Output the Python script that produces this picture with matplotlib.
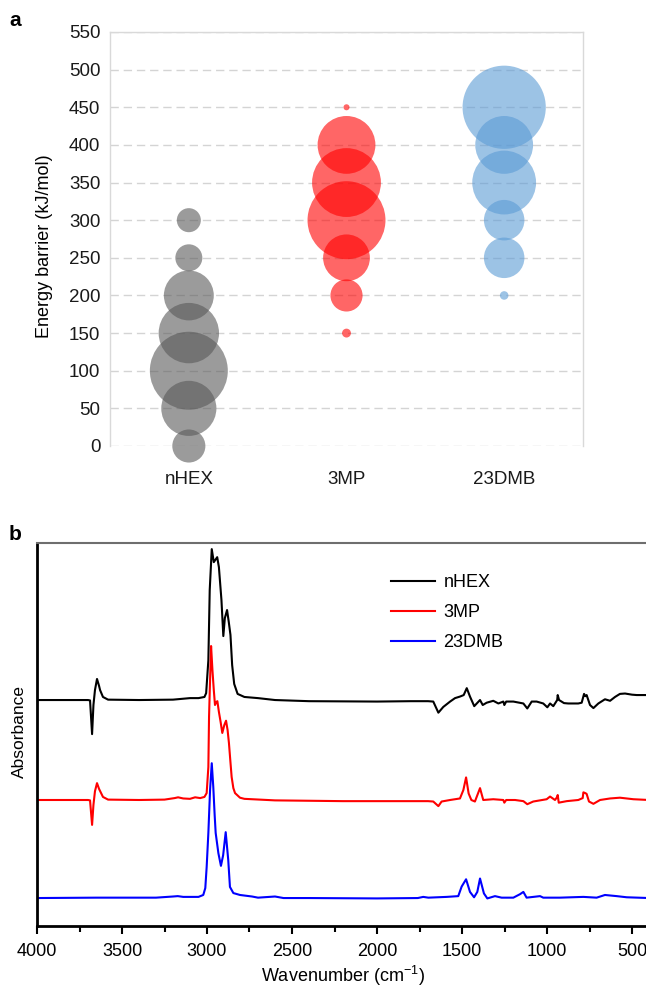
import matplotlib
matplotlib.use('Agg')
import matplotlib.pyplot as plt

plt.rcParams['font.family'] = ['Liberation Sans', 'DejaVu Sans']
plt.rcParams['mathtext.fontset'] = 'custom'
plt.rcParams['mathtext.rm'] = 'Liberation Sans'

# ---- panel a: energy barrier bubbles ----
categories = ['nHEX', '3MP', '23DMB']
bubble_colors = ['#595959', '#ff0000', '#5b9bd5']

nhex_barrier = [0, 50, 100, 150, 200, 250, 300]
nhex_size = [18, 50, 100, 60, 41, 12, 9.5]
mp_barrier = [150, 200, 250, 300, 350, 400, 450]
mp_size = [1.3, 17, 36, 100, 78, 55, 0.6]
dmb_barrier = [200, 250, 300, 350, 400, 450]
dmb_size = [1.2, 27, 27, 67, 55, 114]

barrier_ticks = [0, 50, 100, 150, 200, 250, 300, 350, 400, 450, 500, 550]

# ---- panel b: IR spectra (absorbance relative to each baseline) ----
spectra_labels = ['nHEX', '3MP', '23DMB']
spectra_colors = ['#000000', '#ff0000', '#0000ff']
spectra_offsets = [0.590, 0.329, 0.073]

nhex_wn = [4000, 3800, 3700, 3688, 3676, 3668, 3659, 3647, 3635, 3629, 3612, 3582,
           3400, 3200, 3100, 3050, 3015, 3005, 2992, 2984, 2972, 2960, 2940, 2930,
           2915, 2904, 2895, 2882, 2872, 2862, 2852, 2840, 2820, 2780, 2700, 2600,
           2400, 2000, 1800, 1700, 1669, 1639, 1610, 1570, 1541, 1512, 1490, 1472,
           1453, 1428, 1394, 1378, 1355, 1316, 1286, 1257, 1251, 1240, 1198, 1139,
           1116, 1090, 1061, 1022, 998, 982, 963, 940, 937, 929, 900, 875, 816, 796,
           782, 775, 767, 757, 747, 727, 698, 659, 629, 600, 571, 541, 500, 472, 400]
nhex_abs = [0.000, 0.000, 0.000, -0.001, -0.089, -0.013, 0.026, 0.055, 0.037, 0.026, 0.008, 0.001,
            0.000, 0.001, 0.005, 0.005, 0.008, 0.018, 0.104, 0.287, 0.394, 0.360, 0.373, 0.347,
            0.261, 0.167, 0.214, 0.235, 0.204, 0.170, 0.091, 0.042, 0.016, 0.008, 0.005, 0.000,
            -0.003, -0.004, -0.003, -0.003, -0.004, -0.033, -0.018, -0.004, 0.005, 0.009, 0.013, 0.031,
            0.009, -0.016, 0.000, -0.013, -0.007, -0.002, -0.009, -0.004, -0.013, -0.004, -0.004, -0.009,
            -0.022, -0.004, -0.004, -0.009, -0.019, -0.009, -0.016, 0.000, 0.013, 0.000, -0.008, -0.009, -0.009, -0.007,
            0.016, 0.010, 0.013, 0.000, -0.013, -0.021, -0.009, 0.002, -0.002, 0.008, 0.016, 0.017, 0.014, 0.013, 0.013]

mp_wn = [4000, 3700, 3688, 3676, 3668, 3659, 3647, 3635, 3612, 3582, 3400, 3250,
         3190, 3170, 3140, 3100, 3070, 3040, 3015, 3002, 2992, 2988, 2982, 2976,
         2968, 2960, 2953, 2945, 2939, 2930, 2920, 2910, 2898, 2888, 2879, 2871,
         2863, 2855, 2845, 2835, 2806, 2780, 2600, 2200, 1900, 1700, 1669, 1639,
         1620, 1570, 1512, 1492, 1476, 1461, 1445, 1424, 1394, 1375, 1316, 1257,
         1251, 1240, 1188, 1139, 1116, 1081, 1002, 982, 953, 940, 937, 931, 884,
         816, 790, 786, 775, 767, 753, 727, 688, 629, 571, 492, 400]
mp_abs = [0.000, 0.000, -0.001, -0.065, -0.013, 0.023, 0.044, 0.029, 0.008, 0.001, 0.000, 0.001,
          0.005, 0.007, 0.004, 0.003, 0.007, 0.005, 0.008, 0.018, 0.086, 0.217, 0.313, 0.402,
          0.339, 0.287, 0.248, 0.256, 0.258, 0.230, 0.204, 0.175, 0.196, 0.207, 0.183, 0.149,
          0.104, 0.060, 0.031, 0.018, 0.006, 0.003, -0.001, -0.003, -0.003, -0.003, -0.004, -0.016,
          -0.004, 0.000, 0.004, 0.026, 0.059, 0.017, 0.000, -0.004, 0.031, 0.000, 0.002, 0.000,
          -0.007, 0.000, 0.000, -0.003, -0.011, -0.004, 0.002, 0.009, 0.000, 0.008, 0.013, -0.007, -0.003,
          0.000, 0.005, 0.020, 0.018, 0.016, -0.004, -0.010, 0.000, 0.004, 0.006, 0.002, 0.000]

dmb_wn = [4000, 3650, 3300, 3200, 3172, 3140, 3050, 3022, 3010, 3002, 2992, 2982,
          2972, 2963, 2955, 2949, 2933, 2918, 2905, 2890, 2875, 2865, 2845, 2806,
          2735, 2700, 2600, 2550, 2400, 2000, 1760, 1728, 1698, 1590, 1522, 1502,
          1476, 1453, 1429, 1410, 1394, 1371, 1351, 1306, 1267, 1198, 1159, 1139,
          1120, 1041, 1022, 924, 786, 708, 659, 590, 531, 400]
dmb_abs = [0.000, 0.001, 0.001, 0.004, 0.005, 0.003, 0.003, 0.008, 0.026, 0.081, 0.170, 0.282,
           0.352, 0.290, 0.217, 0.170, 0.117, 0.084, 0.112, 0.172, 0.099, 0.029, 0.013, 0.008,
           0.004, 0.001, 0.004, 0.000, 0.000, -0.001, 0.000, 0.003, 0.001, 0.003, 0.005, 0.030,
           0.049, 0.016, 0.002, 0.016, 0.051, 0.012, -0.001, 0.005, 0.001, 0.001, 0.010, 0.016,
           0.001, 0.005, 0.001, 0.001, 0.003, 0.001, 0.008, 0.005, 0.002, 0.000]

wn_ticks = [4000, 3500, 3000, 2500, 2000, 1500, 1000, 500]
wn_minor = [3750, 3250, 2750, 2250, 1750, 1250, 750]

W, H = 646, 990
fig = plt.figure(figsize=(W / 100, H / 100), dpi=100)

# Panel a ---------------------------------------------------------------
ax1 = fig.add_axes([110 / W, 1 - 446 / H, 473 / W, 414 / H])
groups = [(nhex_barrier, nhex_size), (mp_barrier, mp_size), (dmb_barrier, dmb_size)]
for i, (barrier, size) in enumerate(groups):
    ax1.scatter([i + 1] * len(barrier), barrier, s=[v * 31.5 for v in size],
                color=bubble_colors[i], alpha=0.6, linewidths=0, clip_on=False, zorder=3)

ax1.set_xlim(0.5, 3.5)
ax1.set_ylim(0, 550)
ax1.set_yticks(barrier_ticks)
ax1.set_xticks([1, 2, 3])
ax1.set_xticklabels(categories)
ax1.tick_params(axis='both', length=0, labelsize=13.5, colors='#1a1a1a')
ax1.tick_params(axis='x', pad=18)
ax1.tick_params(axis='y', pad=7)
ax1.set_axisbelow(True)
ax1.yaxis.grid(True, color='#d4d4d4', linewidth=1.0, linestyle=(0, (6, 3.5)))
for side in ['left', 'right', 'top']:
    ax1.spines[side].set_color('#d9d9d9')
    ax1.spines[side].set_linewidth(1.0)
ax1.spines['bottom'].set_visible(False)
fig.text(45 / W, 1 - 246 / H, 'Energy barrier (kJ/mol)', rotation=90,
         ha='center', va='center', fontsize=13)
fig.text(15 / W, 1 - 20 / H, 'a', fontsize=15, fontweight='bold', ha='center', va='center')

# Panel b ---------------------------------------------------------------
ax2 = fig.add_axes([37 / W, 1 - 926 / H, 612 / W, 383 / H])
spectra = [(nhex_wn, nhex_abs), (mp_wn, mp_abs), (dmb_wn, dmb_abs)]
for i, (wn, ab) in enumerate(spectra):
    ax2.plot(wn, [a + spectra_offsets[i] for a in ab], color=spectra_colors[i],
             linewidth=1.5, label=spectra_labels[i])

ax2.set_xlim(4000, 400)
ax2.set_ylim(0, 1)
ax2.set_xticks(wn_ticks)
ax2.set_xticks(wn_minor, minor=True)
ax2.set_yticks([])
ax2.tick_params(axis='x', which='major', direction='out', length=6, width=1.5,
                labelsize=13, pad=6)
ax2.tick_params(axis='x', which='minor', direction='out', length=4, width=1.5)
ax2.spines['left'].set_linewidth(2.0)
ax2.spines['bottom'].set_linewidth(2.0)
ax2.spines['right'].set_visible(False)
ax2.spines['top'].set_color('#6e6e6e')
ax2.spines['top'].set_linewidth(1.5)

ax2.legend(loc='upper left', bbox_to_anchor=(375 / W, 1 - 558 / H),
           bbox_transform=fig.transFigure, frameon=False, fontsize=13,
           handlelength=2.4, handletextpad=0.5, labelspacing=0.72)

fig.text(343 / W, 1 - 976 / H, 'Wavenumber (cm$^{\\mathregular{-1}}$)',
         ha='center', va='center', fontsize=13)
fig.text(19 / W, 1 - 732 / H, 'Absorbance', rotation=90, ha='center', va='center',
         fontsize=12.5)
fig.text(15 / W, 1 - 535 / H, 'b', fontsize=15, fontweight='bold', ha='center', va='center')

fig.savefig('out.png', dpi=100)
